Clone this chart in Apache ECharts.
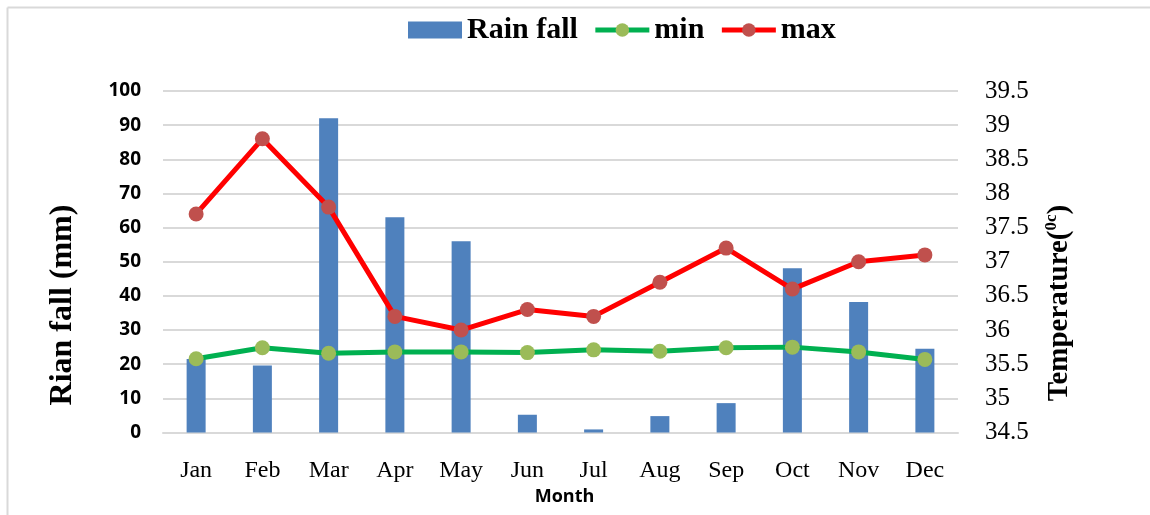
<!DOCTYPE html>
<html>
<head>
<meta charset="utf-8">
<script src="https://cdn.jsdelivr.net/npm/echarts@6/dist/echarts.min.js"></script>
<style>html,body{margin:0;padding:0;background:#fff;}#c{width:1150px;height:515px;}</style>
</head>
<body>
<div id="c"></div>
<script>
var months = ['Jan','Feb','Mar','Apr','May','Jun','Jul','Aug','Sep','Oct','Nov','Dec'];
var rainfall = [21.5, 19.6, 92, 63, 56, 5.2, 0.9, 4.8, 8.6, 48.1, 38.2, 24.5];
var tempMin = [35.58, 35.74, 35.66, 35.68, 35.68, 35.67, 35.71, 35.69, 35.74, 35.75, 35.68, 35.57];
var tempMax = [37.7, 38.8, 37.8, 36.2, 36.0, 36.3, 36.2, 36.7, 37.2, 36.6, 37.0, 37.1];

var chart = echarts.init(document.getElementById('c'), null, {renderer: 'canvas'});
var serif = '"Liberation Serif", "Times New Roman", serif';
var sans = '"Open Sans", "Liberation Sans", sans-serif';
chart.setOption({
  animation: false,
  backgroundColor: '#fff',
  grid: {left: 163, right: 192, top: 91, bottom: 82.5, containLabel: false},
  legend: {
    left: 403, top: 10,
    itemWidth: 54, itemHeight: 17, itemGap: 15,
    lineStyle: {width: 5},
    textStyle: {fontFamily: serif, fontWeight: 'bold', fontSize: 30, color: '#000'},
    data: [{name: 'Rain fall', icon: 'rect'}, {name: 'min'}, {name: 'max'}]
  },
  xAxis: {
    type: 'category', data: months,
    axisLine: {lineStyle: {color: '#D9D9D9', width: 2}},
    axisTick: {show: false},
    axisLabel: {fontFamily: serif, fontSize: 24, color: '#000', margin: 26},
    name: 'Month', nameLocation: 'middle', nameGap: 47,
    nameTextStyle: {fontFamily: sans, fontWeight: 'bold', fontSize: 18, color: '#000', padding: [0,0,0,8]}
  },
  yAxis: [{
    type: 'value', min: 0, max: 100, interval: 10,
    axisLine: {show: false}, axisTick: {show: false},
    splitLine: {lineStyle: {color: '#D9D9D9', width: 2}},
    axisLabel: {fontFamily: sans, fontWeight: 'bold', fontSize: 19, color: '#000', margin: 22}
  }, {
    type: 'value', min: 34.5, max: 39.5, interval: 0.5,
    axisLine: {show: false}, axisTick: {show: false},
    splitLine: {show: false},
    axisLabel: {fontFamily: serif, fontSize: 25, color: '#000', margin: 27}
  }],
  series: [{
    name: 'Rain fall', type: 'bar', data: rainfall, barWidth: 19,
    itemStyle: {color: '#4F81BD'}
  }, {
    name: 'min', type: 'line', yAxisIndex: 1, data: tempMin,
    symbol: 'circle', symbolSize: 15,
    lineStyle: {color: '#00B050', width: 5},
    itemStyle: {color: '#9BBB59'}
  }, {
    name: 'max', type: 'line', yAxisIndex: 1, data: tempMax,
    symbol: 'circle', symbolSize: 15,
    lineStyle: {color: '#FF0000', width: 5},
    itemStyle: {color: '#C0504D'}
  }],
  graphic: [
    {type: 'line', shape: {x1: 7.5, y1: 7.5, x2: 1150, y2: 7.5}, style: {stroke: '#D9D9D9', lineWidth: 2}},
    {type: 'line', shape: {x1: 7.5, y1: 7.5, x2: 7.5, y2: 515}, style: {stroke: '#D9D9D9', lineWidth: 2}},
    {type: 'text', x: 63, y: 305, rotation: Math.PI / 2,
     style: {text: 'Rian fall (mm)', font: 'bold 32px ' + serif, fill: '#000',
             textAlign: 'center', textVerticalAlign: 'middle', align: 'center', verticalAlign: 'middle'}},
    {type: 'text', x: 1060, y: 303, rotation: Math.PI / 2,
     style: {text: '{a|Temperature(}{s|0c}{a|)}', fill: '#000',
             textAlign: 'center', textVerticalAlign: 'middle', align: 'center', verticalAlign: 'middle',
             rich: {
               a: {fontFamily: serif, fontWeight: 'bold', fontSize: 29, lineHeight: 34, fill: '#000'},
               s: {fontFamily: serif, fontWeight: 'bold', fontSize: 17, lineHeight: 20, verticalAlign: 'top', fill: '#000'}
             }}}
  ]
});
</script>
</body>
</html>
